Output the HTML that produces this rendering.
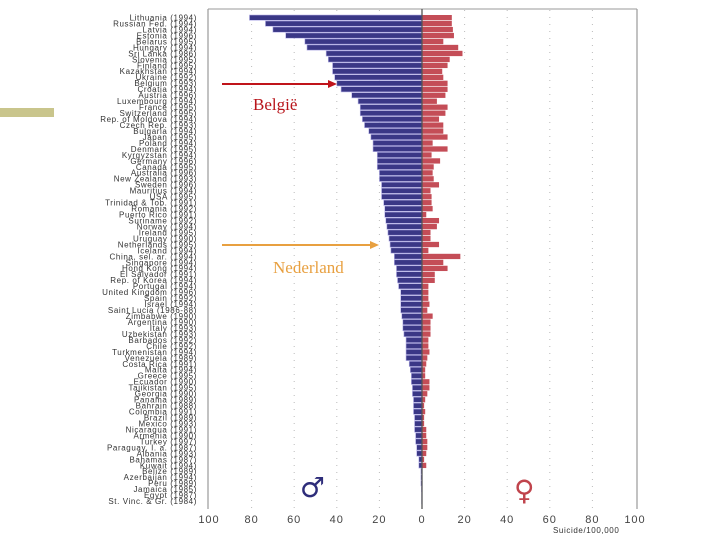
<!DOCTYPE html>
<html><head><meta charset="utf-8"><style>
body{margin:0;background:#fff;width:720px;height:540px;overflow:hidden}
svg{display:block}
.lbl{font-family:"Liberation Sans",sans-serif;font-size:8px;fill:#333;letter-spacing:0.6px}
.tick{font-family:"Liberation Sans",sans-serif;font-size:11px;fill:#444;letter-spacing:1px}
</style></head><body>
<svg id="chart" width="720" height="540">
  <rect x="0" y="108" width="54" height="9" fill="#c9c58c"/>
  <g id="grid"></g>
  <g id="bars"></g>
  <g id="labels"></g>
  <g id="ticks"></g>
  <line x1="208" y1="9" x2="637" y2="9" stroke="#999" stroke-width="1"/>
  <line x1="208" y1="9" x2="208" y2="509" stroke="#999" stroke-width="1.2"/>
  <line x1="637" y1="9" x2="637" y2="509" stroke="#999" stroke-width="1.2"/>
  <line x1="422" y1="9" x2="422" y2="509" stroke="#555" stroke-width="1.3"/>
  <text x="300" y="497" font-family="DejaVu Sans,sans-serif" font-size="28" fill="#2e2d7a">♂</text>
  <text x="514" y="500" font-family="DejaVu Sans,sans-serif" font-size="28" fill="#c0444c">♀</text>
  <text x="553" y="533" class="lbl" style="font-size:8px">Suicide/100,000</text>
  <line x1="222" y1="84" x2="330" y2="84" stroke="#c0141a" stroke-width="2"/>
  <polygon points="337,84 328,80 328,88" fill="#c0141a"/>
  <text x="253" y="110" font-family="Liberation Serif,serif" font-size="17" fill="#b8141a">België</text>
  <line x1="222" y1="245" x2="372" y2="245" stroke="#e8a040" stroke-width="2"/>
  <polygon points="379,245 370,241 370,249" fill="#e8a040"/>
  <text x="273" y="273" font-family="Liberation Serif,serif" font-size="17" fill="#e8a040">Nederland</text>
</svg>
<script>
const countries=["Lithuania (1994)","Russian Fed. (1994)","Latvia (1994)","Estonia (1996)","Belarus (1995)","Hungary (1994)","Sri Lanka (1986)","Slovenia (1995)","Finland (1995)","Kazakhstan (1994)","Ukraine (1992)","Belgium (1993)","Croatia (1994)","Austria (1996)","Luxembourg (1994)","France (1995)","Switzerland (1995)","Rep. of Moldova (1994)","Czech Rep. (1993)","Bulgaria (1994)","Japan (1995)","Poland (1994)","Denmark (1995)","Kyrgyzstan (1994)","Germany (1996)","Canada (1995)","Australia (1996)","New Zealand (1993)","Sweden (1996)","Mauritius (1994)","USA (1995)","Trinidad & Tob. (1991)","Romania (1992)","Puerto Rico (1991)","Suriname (1992)","Norway (1994)","Ireland (1995)","Uruguay (1990)","Netherlands (1995)","Iceland (1994)","China, sel. ar. (1994)","Singapore (1994)","Hong Kong (1994)","El Salvador (1991)","Rep. of Korea (1994)","Portugal (1994)","United Kingdom (1996)","Spain (1992)","Israel (1994)","Saint Lucia (1986-88)","Zimbabwe (1990)","Argentina (1990)","Italy (1993)","Uzbekistan (1993)","Barbados (1992)","Chile (1992)","Turkmenistan (1994)","Venezuela (1989)","Costa Rica (1991)","Malta (1994)","Greece (1995)","Ecuador (1990)","Tajikistan (1995)","Georgia (1990)","Panama (1989)","Bahrain (1988)","Colombia (1991)","Brazil (1989)","Mexico (1993)","Nicaragua (1991)","Armenia (1990)","Turkey (1997)","Paraguay, I. a. (1987)","Albania (1993)","Bahamas (1987)","Kuwait (1994)","Belize (1989)","Azerbaijan (1994)","Peru (1989)","Jamaica (1985)","Egypt (1987)","St. Vinc. & Gr. (1984)"];
const maleRates=[81,73.5,70,64,55,54,45,44,42,42,41,40,38,33,30,29,29,28,27,25,24,23,23,21,21,21,20,20,19,19,19,18,17.5,17.5,17,16.5,16,15.5,15,14.6,13,13,12,12,11.5,11,10,10,10,10,9.5,9,9,8.5,7.5,7.5,7.5,7.5,6,5.5,5,5,4.5,4.5,4,4,4,3.5,3.5,3.5,3,3,2.5,2.5,1.5,1.5,0.5,0.5,0.5,0.3,0.2,0.2];
const femaleRates=[14,14,14.5,15,10,17,19,13,12,9.5,10,12,12,11,7,12,11,8,10,10,12,5,12,4.5,8.5,5.5,5,5.5,8,4,4.5,4.5,5,2,8,7,4,4,8,3,18,10,12,6,6,3,3,3,3.5,2.5,5,4,4,4,3,3,3.5,2.5,2,1.5,1.5,3.5,3.5,2.5,1.5,1,1.5,1,1,2,2,2.5,2.5,2,1,2,0.2,0.2,0.2,0.1,0.1,0.1];
const tickValues=[-100,-80,-60,-40,-20,0,20,40,60,80,100];
const NS="http://www.w3.org/2000/svg";
const x0=422,sc=2.13,y0=15,pitch=5.97;
function xPos(v){return x0+v*sc;}
function yPos(i){return y0+i*pitch;}
function mk(t,a){const e=document.createElementNS(NS,t);for(const k in a)e.setAttribute(k,a[k]);return e;}
const grid=document.getElementById('grid'),bars=document.getElementById('bars'),labels=document.getElementById('labels'),ticks=document.getElementById('ticks');
tickValues.forEach(v=>{
  if(v!==0&&Math.abs(v)!==100){
    const l=mk('line',{x1:xPos(v),y1:10,x2:xPos(v),y2:509,stroke:'#bbb','stroke-width':1,'stroke-dasharray':'1,6'});
    
    
    grid.appendChild(l);
  }
  const t=mk('text',{x:xPos(v),y:523,'text-anchor':'middle',class:'tick'});
  t.textContent=Math.abs(v);
  
  
  ticks.appendChild(t);
});
countries.forEach((c,i)=>{
  const y=yPos(i);
  const m=mk('rect',{x:xPos(-maleRates[i]),y:y,width:maleRates[i]*sc,height:5.3,fill:'#3a3786',stroke:'#b8b4e8','stroke-width':0.6});
  
  
  bars.appendChild(m);
  const f=mk('rect',{x:x0,y:y,width:femaleRates[i]*sc,height:5.3,fill:'#c44d57'});
  
  
  bars.appendChild(f);
  const t=mk('text',{x:197,y:y+5.5,'text-anchor':'end',class:'lbl'});
  t.textContent=c;
  
  
  labels.appendChild(t);
});
</script>
</body></html>
